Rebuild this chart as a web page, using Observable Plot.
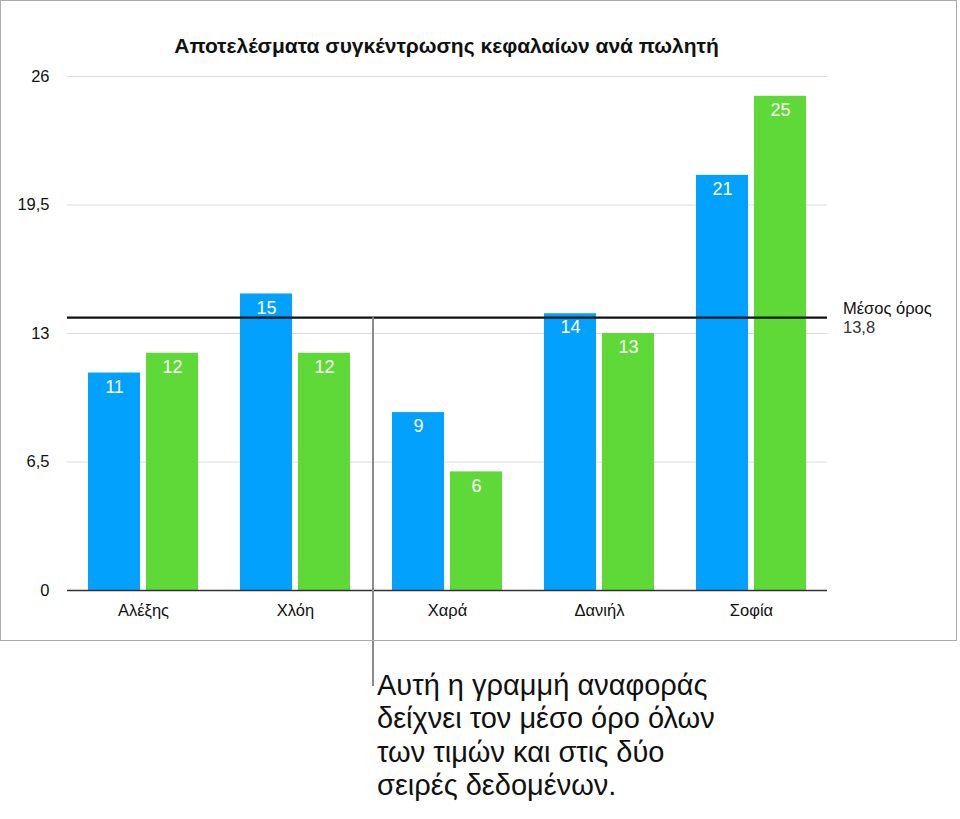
<!DOCTYPE html>
<html><head><meta charset="utf-8">
<script src="https://cdn.jsdelivr.net/npm/d3@7"></script>
<script src="https://cdn.jsdelivr.net/npm/@observablehq/plot@0.6"></script>
<style>
body{margin:0;background:#fff;font-family:"Liberation Sans",Arial,sans-serif;}
#wrap{position:relative;width:960px;height:819px;}
#chart{position:absolute;left:0;top:0;}
#frame{position:absolute;left:0;top:0;width:955px;height:639px;border:1.5px solid #ababab;pointer-events:none;}
#title{position:absolute;left:65px;width:763px;top:34px;text-align:center;font-weight:bold;font-size:21px;color:#111;}
#note{position:absolute;top:669px;font-size:29px;line-height:33.3px;color:#111;white-space:nowrap;}
</style></head><body>
<div id="wrap"><div id="chart"></div><div id="frame"></div><div id="title"></div><div id="note"></div></div>
<script>
const titleText = "Αποτελέσματα συγκέντρωσης κεφαλαίων ανά πωλητή";
const categories = ["Αλέξης", "Χλόη", "Χαρά", "Δανιήλ", "Σοφία"];
const seriesNames = ["Σειρά 1", "Σειρά 2"];
const series1 = [11, 15, 9, 14, 21];
const series2 = [12, 12, 6, 13, 25];
const yTicks = [0, 6.5, 13, 19.5, 26];
const avgLabel = "Μέσος όρος";
const noteLines = ["Αυτή η γραμμή αναφοράς", "δείχνει τον μέσο όρο όλων", "των τιμών και στις δύο", "σειρές δεδομένων."];
const colors = ["#03a1fe", "#5fd938"];

const data = categories.flatMap((c, i) => [
  {cat: c, series: seriesNames[0], value: series1[i]},
  {cat: c, series: seriesNames[1], value: series2[i]}
]);
const average = d3.mean(data, d => d.value);
const fmt = v => String(v).replace(".", ",");

const W = 960, H = 819, mL = 65, mR = 132, mT = 76, mB = 229;

const chart = Plot.plot({
  width: W, height: H,
  marginTop: mT, marginLeft: mL, marginRight: mR, marginBottom: mB,
  style: {fontFamily: "Liberation Sans, Arial, sans-serif", fontSize: "16.5px", color: "#111", overflow: "visible", background: "transparent"},
  facet: {data: data, x: "cat"},
  fx: {domain: categories, padding: 0, label: null, tickSize: 0, tickPadding: 14, axis: "bottom"},
  x: {domain: seriesNames, paddingInner: 0.11, paddingOuter: 0.35, axis: null},
  y: {domain: [0, 26], ticks: yTicks, tickFormat: fmt, tickSize: 0, tickPadding: 18, label: null},
  color: {domain: seriesNames, range: colors},
  marks: [
    Plot.ruleY(yTicks, {stroke: "#dcdcdc", strokeWidth: 1}),
    Plot.barY(data, {x: "series", y: "value", fill: "series"}),
    Plot.ruleY([0], {stroke: "#333", strokeWidth: 1.5}),
    Plot.ruleY([average], {stroke: "#111", strokeWidth: 2.2}),
    Plot.text(data, {x: "series", y: "value", text: d => String(d.value), dy: 14, fill: "white", fontSize: 18})
  ]
});
document.getElementById("chart").appendChild(chart);

const ys = chart.scale("y"), fxs = chart.scale("fx");
const yAvg = ys.apply(average);
const xCall = fxs.apply(categories[2]) + 2;
const svg = d3.select(chart);
svg.append("line")
  .attr("x1", xCall).attr("x2", xCall)
  .attr("y1", yAvg).attr("y2", 686)
  .attr("stroke", "#8a8a8a").attr("stroke-width", 2);
const lab = svg.append("text")
  .attr("text-anchor", "start")
  .attr("font-family", "Liberation Sans, Arial, sans-serif")
  .attr("font-size", 16.5).attr("fill", "#111");
lab.append("tspan").attr("x", W - mR + 15).attr("y", yAvg - 3).text(avgLabel);
lab.append("tspan").attr("x", W - mR + 15).attr("y", yAvg + 16).attr("fill", "#333").text(fmt(average));

document.getElementById("title").textContent = titleText;
const note = document.getElementById("note");
note.style.left = (xCall + 4) + "px";
note.innerHTML = noteLines.join("<br>");
</script>
</body></html>
